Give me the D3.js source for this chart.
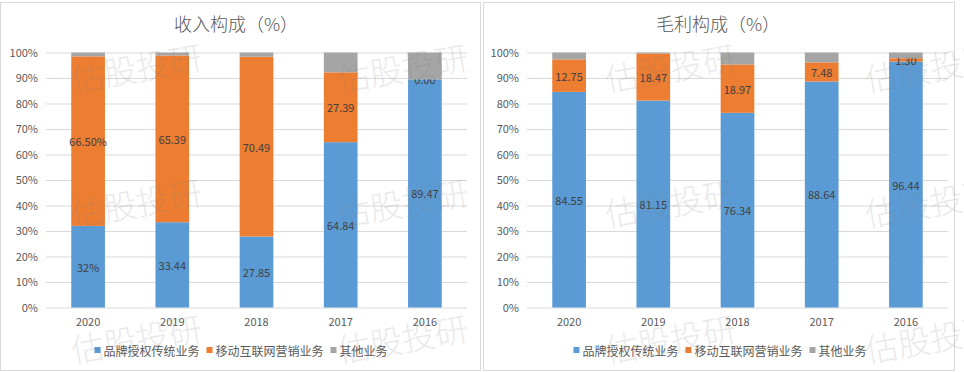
<!DOCTYPE html>
<html>
<head>
<meta charset="utf-8">
<script src="https://cdn.jsdelivr.net/npm/d3@7"></script>
<style>
  body { margin: 0; background: #fff; }
  svg text { font-family: "Noto Sans CJK SC", "Noto Sans", sans-serif; }
</style>
</head>
<body>
<svg id="chart" width="964" height="372"></svg>
<script>
// categories + series
const years = ["2020", "2019", "2018", "2017", "2016"];
const seriesNames = ["品牌授权传统业务", "移动互联网营销业务", "其他业务"];
const colors = ["#5B9BD5", "#ED7D31", "#A5A5A5"];
const yTicks = [0, 10, 20, 30, 40, 50, 60, 70, 80, 90, 100];

// 收入构成
const revBrand = [32, 33.44, 27.85, 64.84, 89.47];
const revMobile = [66.50, 65.39, 70.49, 27.39, 0.00];
const revOther = [1.50, 1.17, 1.66, 7.77, 10.53];
const revBrandLabels = ["32%", "33.44", "27.85", "64.84", "89.47"];
const revMobileLabels = ["66.50%", "65.39", "70.49", "27.39", "0.00"];

// 毛利构成
const gpBrand = [84.55, 81.15, 76.34, 88.64, 96.44];
const gpMobile = [12.75, 18.47, 18.97, 7.48, 1.30];
const gpOther = [2.70, 0.38, 4.69, 3.88, 2.26];
const gpBrandLabels = ["84.55", "81.15", "76.34", "88.64", "96.44"];
const gpMobileLabels = ["12.75", "18.47", "18.97", "7.48", "1.30"];

const svg = d3.select("#chart");

// panel frames
svg.append("rect").attr("x", 0.5).attr("y", 2.5).attr("width", 480).attr("height", 368)
  .attr("fill", "#fff").attr("stroke", "#d9d9d9");
svg.append("rect").attr("x", 483.5).attr("y", 2.5).attr("width", 471).attr("height", 368)
  .attr("fill", "#fff").attr("stroke", "#d9d9d9");

function drawPanel(dx, title, brand, mobile, other, brandLabels, mobileLabels, titleX, legendX) {
  const g = svg.append("g");

  const x = d3.scaleBand()
    .domain(years)
    .range([46 + dx, 467 + dx])
    .paddingInner(0.6)
    .paddingOuter(0.3);

  const y = d3.scaleLinear().domain([0, 100]).range([307.5, 52.5]);

  // title
  g.append("text")
    .attr("x", titleX).attr("y", 23)
    .attr("text-anchor", "middle").attr("dominant-baseline", "central")
    .attr("font-size", 18).attr("font-weight", 300).attr("fill", "#595959")
    .text(title);

  // gridlines + y labels
  const yAxis = g.append("g")
    .attr("transform", `translate(${46 + dx},0)`)
    .call(d3.axisLeft(y).tickValues(yTicks).tickFormat(d => d + "%")
      .tickSizeInner(-421).tickSizeOuter(0).tickPadding(8));
  yAxis.select(".domain").remove();
  yAxis.selectAll("line").attr("stroke", "#d9d9d9");
  yAxis.selectAll("text").attr("font-size", 11).attr("fill", "#595959");

  // x labels
  const xAxis = g.append("g")
    .attr("transform", "translate(0,307.5)")
    .call(d3.axisBottom(x).tickSize(0).tickPadding(11));
  xAxis.select(".domain").remove();
  xAxis.selectAll("text").attr("font-size", 11).attr("fill", "#595959");

  // stacked bars
  const rows = years.map((yr, i) => ({ year: yr, v: [brand[i], mobile[i], other[i]] }));
  rows.forEach((r, i) => {
    let base = 0;
    r.v.forEach((val, k) => {
      g.append("rect")
        .attr("x", x(r.year))
        .attr("width", x.bandwidth())
        .attr("y", y(base + val))
        .attr("height", y(base) - y(base + val))
        .attr("fill", colors[k]);
      const lbl = k === 0 ? brandLabels[i] : k === 1 ? mobileLabels[i] : null;
      if (lbl != null) {
        g.append("text")
          .attr("x", x(r.year) + x.bandwidth() / 2)
          .attr("y", y(base + val / 2))
          .attr("text-anchor", "middle").attr("dominant-baseline", "central")
          .attr("font-size", 11).attr("fill", "#404040")
          .text(lbl);
      }
      base += val;
    });
  });

  // legend, centred
  const leg = g.append("g");
  let cx = 0;
  seriesNames.forEach((name, k) => {
    leg.append("rect").attr("x", cx).attr("y", -3).attr("width", 6).attr("height", 6).attr("fill", colors[k]);
    const t = leg.append("text").attr("x", cx + 9).attr("y", 0)
      .attr("dominant-baseline", "central").attr("font-size", 12).attr("fill", "#595959").text(name);
    cx += 9 + t.node().getComputedTextLength() + 7;
  });
  const legW = cx - 7;
  leg.attr("transform", `translate(${legendX - legW / 2},350)`);
}

drawPanel(0, "收入构成（%）", revBrand, revMobile, revOther, revBrandLabels, revMobileLabels, 236, 241);
drawPanel(481, "毛利构成（%）", gpBrand, gpMobile, gpOther, gpBrandLabels, gpMobileLabels, 718, 720);

// watermark (runs off the right edge like the source)
const wmX = [136, 402, 670, 930];
const wmY = [67, 202, 338];
const wm = svg.append("g").attr("pointer-events", "none");
wmX.forEach(px => wmY.forEach(py => {
  wm.append("text")
    .attr("transform", `translate(${px},${py}) rotate(-10)`)
    .attr("text-anchor", "middle").attr("dominant-baseline", "central")
    .attr("font-size", 33).attr("font-weight", 300)
    .attr("fill", "#808080").attr("opacity", 0.16)
    .text("估股投研");
}));
</script>
</body>
</html>
